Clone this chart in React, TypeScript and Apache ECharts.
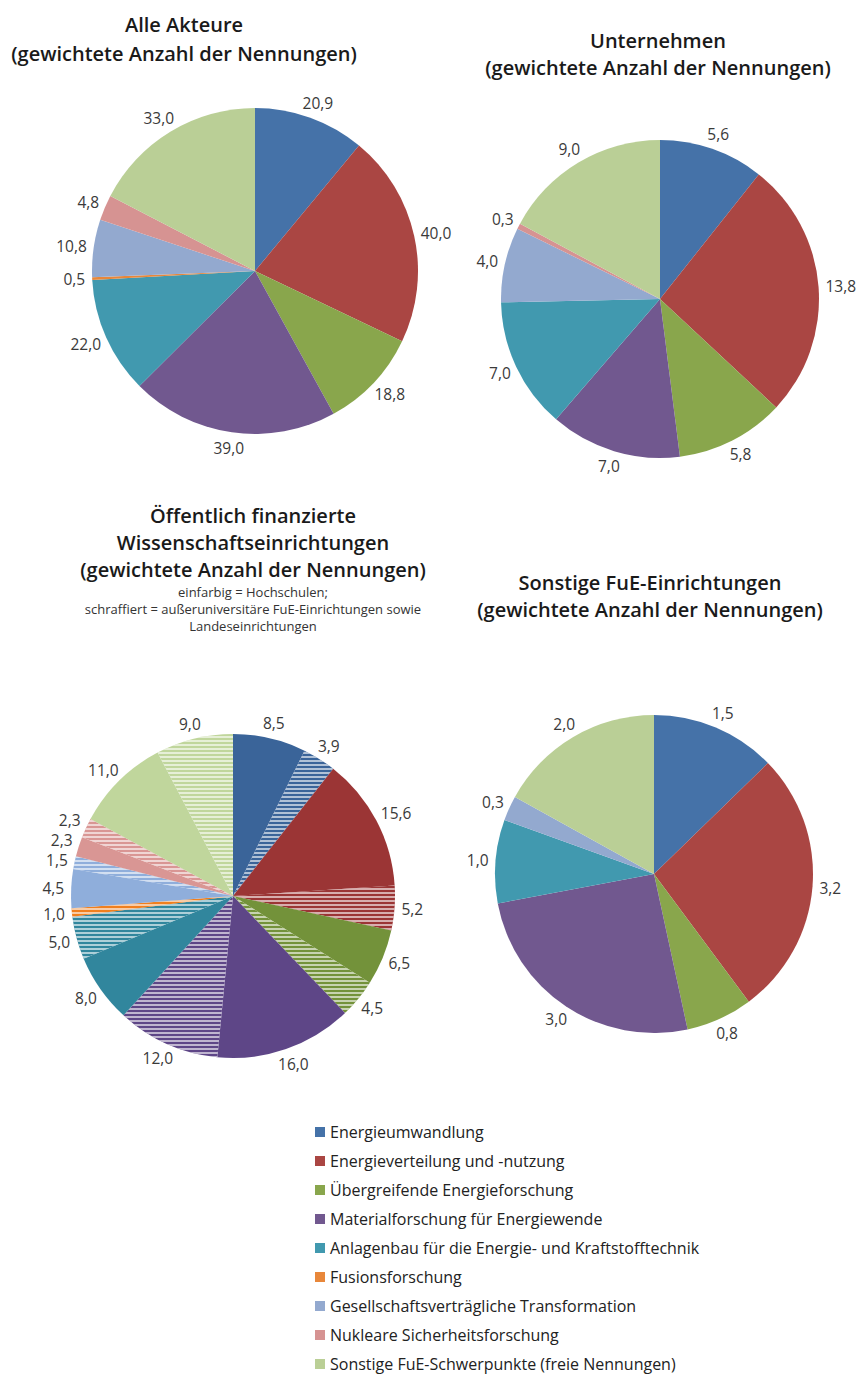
import React, { useEffect, useRef } from "react";
import * as echarts from "echarts";

const CATEGORIES = [
  "Energieumwandlung",
  "Energieverteilung und -nutzung",
  "Übergreifende Energieforschung",
  "Materialforschung für Energiewende",
  "Anlagenbau für die Energie- und Kraftstofftechnik",
  "Fusionsforschung",
  "Gesellschaftsverträgliche Transformation",
  "Nukleare Sicherheitsforschung",
  "Sonstige FuE-Schwerpunkte (freie Nennungen)",
];

const COLORS = ["#4572A8", "#AA4643", "#89A64C", "#71588F", "#4199AF", "#E8873A", "#93A9CF", "#D69392", "#BACF96"];
const COLORS_P3 = ["#3A6499", "#9B3535", "#73923A", "#5E4687", "#31869D", "#F07F1E", "#8FAEDB", "#D99694", "#C0D69C"];

// Alle Akteure (index into CATEGORIES, value)
const ALLE_CAT = [0, 1, 2, 3, 4, 5, 6, 7, 8];
const ALLE_VAL = [20.9, 40.0, 18.8, 39.0, 22.0, 0.5, 10.8, 4.8, 33.0];

// Unternehmen
const UNT_CAT = [0, 1, 2, 3, 4, 6, 7, 8];
const UNT_VAL = [5.6, 13.8, 5.8, 7.0, 7.0, 4.0, 0.3, 9.0];

// Öffentlich finanzierte Wissenschaftseinrichtungen (hatched = außeruniversitär)
const OEF_CAT = [0, 0, 1, 1, 2, 2, 3, 3, 4, 4, 5, 6, 6, 7, 7, 8, 8];
const OEF_HATCH = [false, true, false, true, false, true, false, true, false, true, true, false, true, false, true, false, true];
const OEF_VAL = [8.5, 3.9, 15.6, 5.2, 6.5, 4.5, 16.0, 12.0, 8.0, 5.0, 1.0, 4.5, 1.5, 2.3, 2.3, 11.0, 9.0];

// Sonstige FuE-Einrichtungen
const SON_CAT = [0, 1, 2, 3, 4, 6, 8];
const SON_VAL = [1.5, 3.2, 0.8, 3.0, 1.0, 0.3, 2.0];

const PIES = [
  { cx: 255, cy: 271, r: 163 },
  { cx: 660, cy: 299, r: 159 },
  { cx: 233, cy: 896, r: 162 },
  { cx: 654, cy: 874, r: 159 },
];

const FONT = "'Open Sans', 'Noto Sans', sans-serif";

const fmt = (v: number) => v.toFixed(1).replace(".", ",");

const HATCH = {
  symbol: "rect",
  symbolSize: 1,
  dashArrayX: [1, 0],
  dashArrayY: [1.6, 1.9],
  rotation: 0,
  color: "rgba(255,255,255,0.6)",
};

function buildData(cats: number[], vals: number[], palette: string[], hatch?: boolean[]) {
  return cats.map((c, i) => {
    const itemStyle: any = { color: palette[c] };
    if (hatch && hatch[i]) itemStyle.decal = HATCH;
    return { name: CATEGORIES[c], value: vals[i], itemStyle };
  });
}

function titleText(x: number, y: number, text: string, size: number, weight: number | string) {
  return {
    type: "text",
    x,
    y,
    style: {
      text,
      fontFamily: FONT,
      fontSize: size,
      fontWeight: weight,
      fill: size > 14 ? "#1a1a1a" : "#333",
      align: "center",
      verticalAlign: "middle",
    },
  };
}

export default function App() {
  const ref = useRef<HTMLDivElement>(null);
  useEffect(() => {
    if (!ref.current) return;
    const chart = echarts.init(ref.current, null, { renderer: "svg" });

    const lastLeftY: Record<number, number | null> = {};
    const MIN_GAP = 20;

    const labelLayout = (params: any) => {
      const pts = params.labelLinePoints;
      const p = PIES[params.seriesIndex];
      if (!pts || !p) return {};
      if (params.dataIndex === 0) lastLeftY[params.seriesIndex] = null;
      const dx = pts[0][0] - p.cx;
      const dy = pts[0][1] - p.cy;
      const len = Math.sqrt(dx * dx + dy * dy) || 1;
      const ux = dx / len;
      const uy = dy / len;
      const hw = params.labelRect.width / 2;
      const hh = params.labelRect.height / 2;
      const gap = 7;
      const x = p.cx + ux * (p.r + gap) + ux * hw;
      let y = p.cy + uy * (p.r + gap) + uy * hh;
      if (ux < -0.3) {
        const prev = lastLeftY[params.seriesIndex];
        if (prev != null && prev - y < MIN_GAP) y = prev - MIN_GAP;
        lastLeftY[params.seriesIndex] = y;
      }
      return { x, y, align: "center", verticalAlign: "middle" };
    };

    const seriesBase = (idx: number, data: any[]) => ({
      type: "pie",
      center: [PIES[idx].cx, PIES[idx].cy],
      radius: PIES[idx].r,
      startAngle: 90,
      clockwise: true,
      avoidLabelOverlap: false,
      data,
      itemStyle: { borderWidth: 0 },
      emphasis: { disabled: true },
      label: {
        show: true,
        position: "outside",
        formatter: (pp: any) => fmt(pp.value),
        fontFamily: FONT,
        fontSize: 15.5,
        lineHeight: 17,
        color: "#3a3a3a",
      },
      labelLine: { show: true, length: 5, length2: 0, lineStyle: { width: 0, opacity: 0 } },
      labelLayout,
    });

    chart.setOption({
      animation: false,
      backgroundColor: "#ffffff",
      legend: {
        orient: "vertical",
        left: 315,
        top: 1122,
        height: 300,
        padding: 0,
        icon: "rect",
        itemWidth: 10,
        itemHeight: 10,
        itemGap: 9,
        selectedMode: false,
        data: CATEGORIES,
        textStyle: { fontFamily: FONT, fontSize: 16, color: "#222", lineHeight: 20 },
      },
      graphic: [
        titleText(184, 24, "Alle Akteure", 20, 600),
        titleText(184, 53, "(gewichtete Anzahl der Nennungen)", 20, 600),
        titleText(658, 40, "Unternehmen", 20, 600),
        titleText(658, 67, "(gewichtete Anzahl der Nennungen)", 20, 600),
        titleText(253, 515, "Öffentlich finanzierte", 20, 600),
        titleText(253, 542, "Wissenschaftseinrichtungen", 20, 600),
        titleText(253, 569, "(gewichtete Anzahl der Nennungen)", 20, 600),
        titleText(253, 592, "einfarbig = Hochschulen;", 13, 400),
        titleText(253, 609, "schraffiert = außeruniversitäre FuE-Einrichtungen sowie", 13, 400),
        titleText(253, 626, "Landeseinrichtungen", 13, 400),
        titleText(650, 582, "Sonstige FuE-Einrichtungen", 20, 600),
        titleText(650, 609, "(gewichtete Anzahl der Nennungen)", 20, 600),
      ],
      series: [
        seriesBase(0, buildData(ALLE_CAT, ALLE_VAL, COLORS)),
        seriesBase(1, buildData(UNT_CAT, UNT_VAL, COLORS)),
        seriesBase(2, buildData(OEF_CAT, OEF_VAL, COLORS_P3, OEF_HATCH)),
        seriesBase(3, buildData(SON_CAT, SON_VAL, COLORS)),
      ],
    });
    return () => chart.dispose();
  }, []);
  return (
    <div
      ref={ref}
      style={{ position: "absolute", left: 0, top: 0, width: 861, height: 1376, background: "#fff" }}
    />
  );
}
